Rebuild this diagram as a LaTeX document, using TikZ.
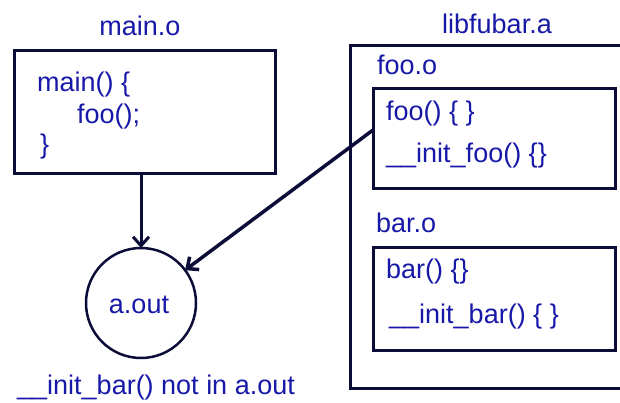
\documentclass[tikz,border=0pt]{standalone}
\usepackage{fontspec}
\setmainfont{Liberation Sans}
\usetikzlibrary{arrows.meta}
\definecolor{codeblue}{RGB}{24,24,168}
\definecolor{linenavy}{RGB}{12,12,56}

\begin{document}
\begin{tikzpicture}[x=1pt, y=-1pt,
        every node/.style={font=\fontsize{27}{30}\selectfont, text=codeblue, inner sep=0pt},
        label/.style={anchor=base west},
        objbox/.style={draw=linenavy, line width=3pt, rectangle, outer sep=0pt},
        link/.style={draw=linenavy, line width=3pt, -{Straight Barb[length=9pt, width=16pt]}}]
        \useasboundingbox (0,0) rectangle (620,402);

        % main.o
        \node[anchor=base] (mainname) at (140,35) {main.o};
        \node[objbox, minimum width=261pt, minimum height=123pt] (mainbox) at (144.5,111.5) {};
        \node[label] (mainl1) at (37,91) {main() \{};
        \node[label] (mainl2) at (77,123) {foo();};
        \node[label] (mainl3) at (40,153) {\}};

        % a.out
        \node[circle, draw=linenavy, line width=2.5pt, minimum size=110pt, outer sep=0pt] (aout) at (141,303) {};
        \node[anchor=base] (aoutname) at (139,313) {a.out};
        \node[label] (note) at (17,394) {\_\_init\_bar() not in a.out};

        % libfubar.a
        \node[anchor=base] (libname) at (497,33) {libfubar.a};
        \draw[draw=linenavy, line width=3pt] (630,45) -- (350,45) -- (350,388) -- (630,388);

        \node[label] (fooname) at (377,74) {foo.o};
        \node[objbox, minimum width=242pt, minimum height=100pt] (foobox) at (494,138) {};
        \node[label] (fool1) at (386,120) {foo() \{ \}};
        \node[label] (fool2) at (386,162) {\_\_init\_foo() \{\}};

        \node[label] (barname) at (376,232) {bar.o};
        \node[objbox, minimum width=242pt, minimum height=103pt] (barbox) at (494,298.5) {};
        \node[label] (barl1) at (386,278) {bar() \{\}};
        \node[label] (barl2) at (389,323) {\_\_init\_bar() \{ \}};

        \draw[link] (aout |- mainbox.south) -- (aout.north);
        \draw[link, line width=3.5pt] ([yshift=8pt]foobox.west) -- (aout);
    \end{tikzpicture}
\end{document}
